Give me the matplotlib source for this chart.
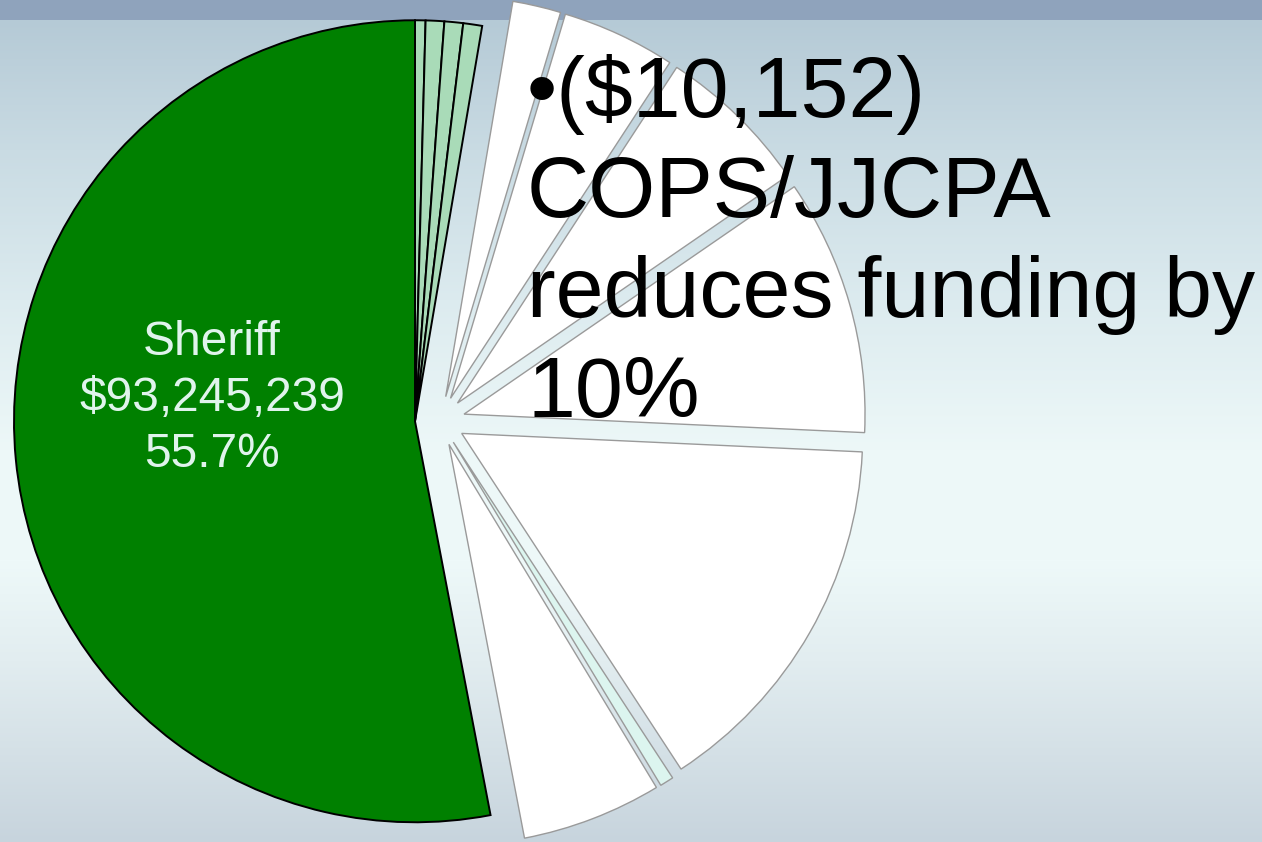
import numpy as np
import matplotlib
matplotlib.use("Agg")
import matplotlib.pyplot as plt
from matplotlib.colors import to_rgb

# Budget slices, clockwise from 12 o'clock (Sheriff sub-funds first, Sheriff main last)
slice_group = ["Sheriff", "Sheriff", "Sheriff", "Sheriff",
               "Other", "Other", "Other", "Other", "Other", "Other", "Other",
               "Sheriff"]
slice_values = [705_000, 1_250_000, 1_262_000, 1_270_000,
                3_255_000, 7_673_000, 10_370_000, 17_299_000, 25_204_000,
                930_000, 9_440_000,
                88_758_239]
highlight_group = "Sheriff"

note_lines = ["\u2022($10,152)", "COPS/JJCPA", "reduces funding by", "10%"]

# styles
slice_colors = ["#a9dbb8", "#a9dbb8", "#a9dbb8", "#a9dbb8",
                "#ffffff", "#ffffff", "#ffffff", "#ffffff", "#ffffff",
                "#dcf5ef", "#ffffff",
                "#008000"]

W, H = 1262, 842
fig = plt.figure(figsize=(W / 100, H / 100), dpi=100)
ax = fig.add_axes([0, 0, 1, 1])

# slide background: dark band on top, soft vertical gradient below
ys = np.arange(H)
stop_y = [20, 150, 300, 450, 560, 660, 842]
stop_c = ["#b5cad6", "#c9dbe3", "#dcebef", "#edf8f8", "#eef9f9", "#e2edf0", "#c7d4dd"]
rgb = np.array([to_rgb(c) for c in stop_c])
grad = np.stack([np.interp(ys, stop_y, rgb[:, k]) for k in range(3)], axis=1)
grad[ys < 20] = to_rgb("#8fa3bc")
ax.imshow(grad[:, None, :], extent=[0, W, 0, H], aspect="auto",
          interpolation="nearest", origin="upper", zorder=0)

# pie
R = 401
cx, cy = 440, 421
gap = 25
explode = [0 if g == highlight_group else gap for g in slice_group]
wedges, _ = ax.pie(slice_values, explode=explode, colors=slice_colors,
                   startangle=90, counterclock=False, radius=R, center=(cx, cy),
                   wedgeprops=dict(linewidth=1.0, edgecolor="#9a9a9a"))
for w in wedges:
    w.set_zorder(2)

# the Sheriff slices are pulled out together, along the group's mid direction
vec = np.zeros(2)
for w, g in zip(wedges, slice_group):
    if g == highlight_group:
        a, b = np.radians(w.theta1), np.radians(w.theta2)
        vec += [np.sin(b) - np.sin(a), np.cos(a) - np.cos(b)]
u = vec / np.linalg.norm(vec)
apex = (cx + gap * u[0], cy + gap * u[1])
for w, g in zip(wedges, slice_group):
    if g == highlight_group:
        w.set_center(apex)
        w.set_edgecolor("black")
        w.set_linewidth(1.4)

ax.set_xlim(0, W)
ax.set_ylim(0, H)
ax.set_aspect("auto")
ax.axis("off")

# group label
total = sum(slice_values)
grp_total = sum(v for v, g in zip(slice_values, slice_group) if g == highlight_group)
label_lines = [highlight_group, f"${grp_total:,}", f"{grp_total / total * 100:.1f}%"]
ang = np.radians(173)
lx = apex[0] + 0.51 * R * np.cos(ang)
ly = apex[1] + 0.51 * R * np.sin(ang)
for i, line in enumerate(label_lines):
    ax.text(lx, ly - 15 + (1 - i) * 56, line, ha="center", va="baseline",
            fontsize=34.5, color="#e0f4ec", family="Liberation Sans", zorder=5)

# overlay note
for i, line in enumerate(note_lines):
    ax.text(527, 725 - i * 100, line, ha="left", va="baseline",
            fontsize=62, color="black", family="Liberation Sans", zorder=6)

fig.savefig("out.png", dpi=100)
